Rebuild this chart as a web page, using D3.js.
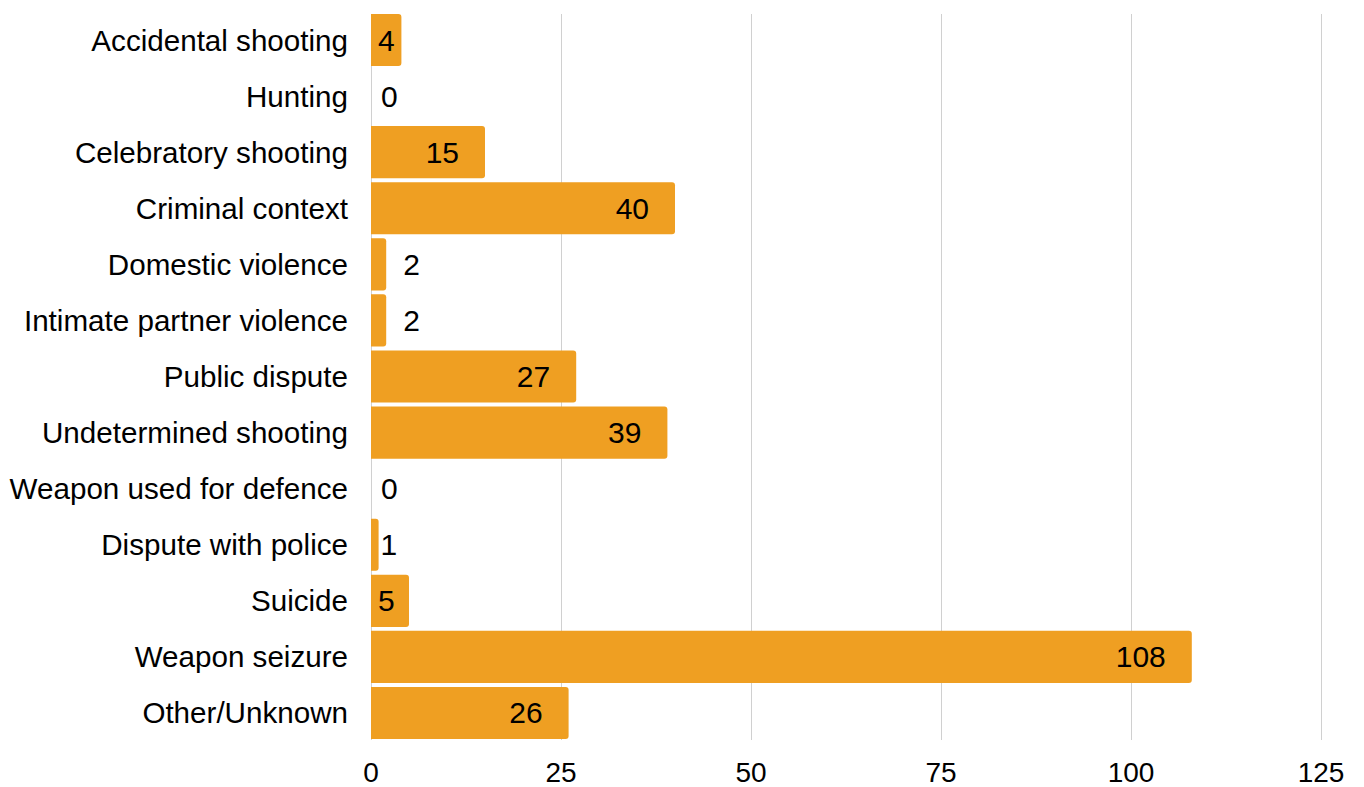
<!DOCTYPE html>
<html><head><meta charset="utf-8">
<script src="https://cdn.jsdelivr.net/npm/d3@7"></script>
<style>body{margin:0;background:#fff}svg{display:block;font-family:"Liberation Sans",Arial,sans-serif}</style>
</head><body>
<svg id="c" width="1364" height="787"></svg>
<script>
const categories = ["Accidental shooting","Hunting","Celebratory shooting","Criminal context","Domestic violence","Intimate partner violence","Public dispute","Undetermined shooting","Weapon used for defence","Dispute with police","Suicide","Weapon seizure","Other/Unknown"];
const values = [4,0,15,40,2,2,27,39,0,1,5,108,26];
const ticks = [0,25,50,75,100,125];

const svg = d3.select("#c");
const m = {left:371, right:1321, top:12, bottom:741};
const x = d3.scaleLinear().domain([0,125]).range([m.left, m.right]);
const y = d3.scaleBand().domain(categories).range([m.top, m.bottom]).paddingInner(0.07).paddingOuter(0.035);

// grid
svg.append("g").selectAll("line").data(ticks).join("line")
  .attr("x1", d=>x(d)+0.5).attr("x2", d=>x(d)+0.5)
  .attr("y1", m.top+2).attr("y2", m.bottom-1)
  .attr("stroke", "#d0d0d0").attr("stroke-width", 1);

// bars with rounded right corners
const r = 3;
svg.append("g").selectAll("path").data(values.map((v,i)=>({v, c:categories[i]}))).join("path")
  .filter(d=>d.v>0)
  .attr("fill", "#EF9F22")
  .attr("d", d=>{
    const x0 = x(0), x1 = x(d.v), y0 = y(d.c), h = y.bandwidth();
    const rr = Math.min(r, (x1-x0)/2);
    return `M${x0},${y0}H${x1-rr}Q${x1},${y0} ${x1},${y0+rr}V${y0+h-rr}Q${x1},${y0+h} ${x1-rr},${y0+h}H${x0}Z`;
  });

// value labels
svg.append("g").selectAll("text").data(values.map((v,i)=>({v, c:categories[i]}))).join("text")
  .attr("font-size", 30).attr("fill", "#000")
  .attr("dominant-baseline", "central")
  .attr("y", d=>y(d.c)+y.bandwidth()/2)
  .attr("text-anchor", d=>d.v>=15 ? "end" : "start")
  .attr("x", d=>{
    if (d.v>=15) return x(d.v)-26;
    if (d.v>=3) return x(0)+7;
    if (d.v===2) return x(d.v)+17;
    return x(d.v)+ (d.v===0 ? 10 : 2);
  })
  .text(d=>d.v);

// category labels
svg.append("g").selectAll("text").data(categories).join("text")
  .attr("font-size", 29.6).attr("fill", "#000")
  .attr("text-anchor", "end").attr("dominant-baseline", "central")
  .attr("x", m.left-23).attr("y", d=>y(d)+y.bandwidth()/2)
  .text(d=>d);

// x axis tick labels
svg.append("g").selectAll("text").data(ticks).join("text")
  .attr("font-size", 28).attr("fill", "#000")
  .attr("text-anchor", "middle").attr("dominant-baseline", "central")
  .attr("x", d=>x(d)).attr("y", 772)
  .text(d=>d);
</script>
</body></html>
